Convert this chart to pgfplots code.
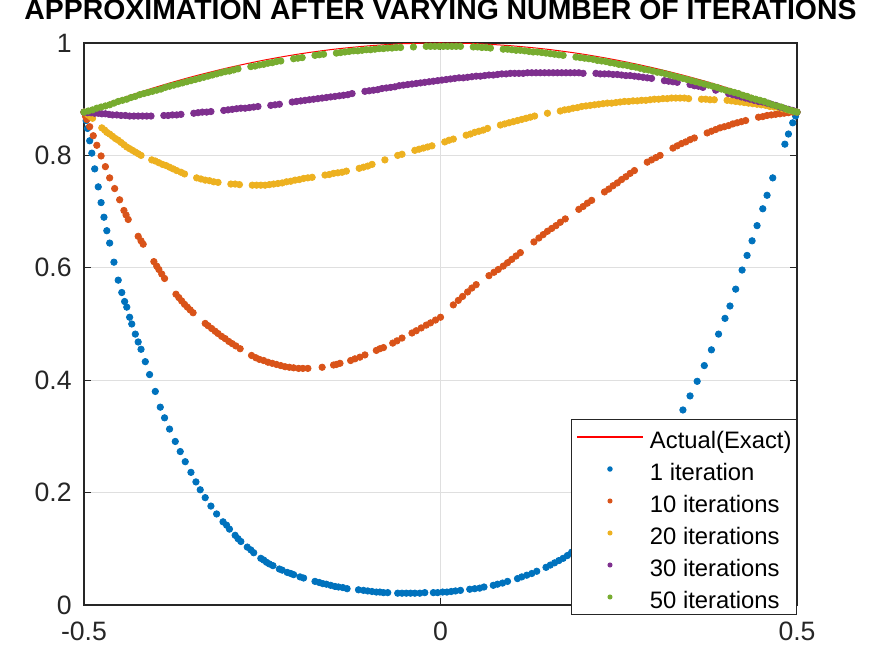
\documentclass[border=0pt]{standalone}
\usepackage{fontspec}
\setmainfont{Liberation Sans}
\usepackage{pgfplots}
\pgfplotsset{compat=1.18}
\definecolor{mblue}{rgb}{0,0.447,0.741}
\definecolor{morange}{rgb}{0.85,0.325,0.098}
\definecolor{myellow}{rgb}{0.929,0.694,0.125}
\definecolor{mpurple}{rgb}{0.494,0.184,0.556}
\definecolor{mgreen}{rgb}{0.466,0.674,0.188}
\definecolor{axgray}{HTML}{262626}
\definecolor{gridgray}{HTML}{DFDFDF}
\definecolor{exactred}{rgb}{1,0,0}

\begin{document}
\begin{tikzpicture}
\begin{axis}[
  scale only axis,
  width=356.5pt, height=281pt,
  xmin=-0.5, xmax=0.5, ymin=0, ymax=1,
  xtick={-0.5,0,0.5},
  ytick={0,0.2,0.4,0.6,0.8,1},
  /pgf/number format/assume math mode=true,
  tick label style={font=\fontsize{13.3}{16}\selectfont, color=axgray},
  xticklabel style={inner sep=0pt},
  yticklabel style={inner sep=0pt},
  xticklabel shift=8.5pt,
  yticklabel shift=6pt,
  axis line style={color=axgray, line width=0.6pt},
  major tick style={color=axgray, line width=0.6pt},
  major tick length=3.5pt,
  grid=major,
  major grid style={color=gridgray, line width=0.5pt},
  clip=false,
  title={APPROXIMATION AFTER VARYING NUMBER OF ITERATIONS},
  title style={font=\bfseries\fontsize{14.2}{16}\selectfont, at={(0.5,1)}, anchor=base, yshift=5.5pt, inner sep=0pt},
  legend cell align=left,
  legend style={at={(1,-0.0178)}, anchor=south east, draw=axgray, line width=0.5pt, fill=white,
    font=\fontsize{11.9}{14}\selectfont, inner xsep=2.5pt, inner ysep=2pt, row sep=2.5pt, column sep=3.5pt,
    nodes={inner sep=0pt, text height=12.5pt, text depth=1pt}},
]
% room round the axis as in the reference
\path (rel axis cs:0,0) -- ++(-42pt,-21.5pt);
\path (rel axis cs:1,1) -- ++(37.5pt,21.5pt);

% exact solution
\addplot[color=exactred, line width=0.5pt, smooth,
  legend image code/.code={\fill[exactred] (0pt,-0.35pt) rectangle (32.5pt,0.35pt);}] coordinates {
(-0.50,0.8776) (-0.45,0.9004) (-0.40,0.9211) (-0.35,0.9394) (-0.30,0.9553)
(-0.25,0.9689) (-0.20,0.9801) (-0.15,0.9888) (-0.10,0.9950) (-0.05,0.9988)
(0,1) (0.05,0.9988) (0.10,0.9950) (0.15,0.9888) (0.20,0.9801) (0.25,0.9689)
(0.30,0.9553) (0.35,0.9394) (0.40,0.9211) (0.45,0.9004) (0.50,0.8776)
};

% 1 iteration
\addplot[only marks, mark=*, mark size=1.6pt, color=mblue,
  legend image code/.code={\fill[mblue] (16.25pt,0pt) circle (1.1pt);}] coordinates {
(-0.500,0.877) (-0.497,0.862) (-0.495,0.848) (-0.492,0.826) (-0.489,0.804)
(-0.485,0.776) (-0.480,0.744) (-0.476,0.716) (-0.472,0.690) (-0.468,0.666)
(-0.464,0.644) (-0.458,0.610) (-0.452,0.578) (-0.447,0.556) (-0.443,0.540)
(-0.440,0.530) (-0.436,0.512) (-0.433,0.500) (-0.428,0.482) (-0.424,0.468)
(-0.420,0.455) (-0.414,0.433) (-0.408,0.410) (-0.400,0.380) (-0.393,0.352)
(-0.387,0.333) (-0.380,0.313) (-0.372,0.291) (-0.365,0.273) (-0.358,0.255)
(-0.350,0.236) (-0.343,0.219) (-0.337,0.205) (-0.330,0.191) (-0.322,0.176)
(-0.314,0.162) (-0.305,0.148) (-0.300,0.142) (-0.296,0.135) (-0.288,0.124)
(-0.284,0.118) (-0.280,0.113) (-0.271,0.103) (-0.266,0.098) (-0.262,0.093)
(-0.252,0.083) (-0.248,0.080) (-0.244,0.076) (-0.240,0.073) (-0.235,0.070)
(-0.226,0.064) (-0.222,0.062) (-0.215,0.058) (-0.210,0.056) (-0.206,0.054)
(-0.197,0.050) (-0.192,0.048) (-0.176,0.042) (-0.170,0.040) (-0.165,0.038)
(-0.160,0.037) (-0.154,0.035) (-0.148,0.033) (-0.143,0.032) (-0.137,0.031)
(-0.131,0.029) (-0.115,0.027) (-0.108,0.026) (-0.102,0.025) (-0.096,0.024)
(-0.090,0.023) (-0.085,0.023) (-0.080,0.022) (-0.074,0.022) (-0.060,0.021)
(-0.054,0.021) (-0.048,0.021) (-0.042,0.021) (-0.036,0.021) (-0.029,0.021)
(-0.022,0.022) (-0.010,0.022) (-0.004,0.022) (0.003,0.023) (0.009,0.023)
(0.015,0.024) (0.021,0.025) (0.028,0.026) (0.041,0.028) (0.048,0.029)
(0.055,0.030) (0.061,0.032) (0.074,0.035) (0.080,0.037) (0.087,0.039)
(0.094,0.042) (0.108,0.047) (0.114,0.050) (0.121,0.053) (0.128,0.056)
(0.135,0.060) (0.148,0.067) (0.154,0.071) (0.160,0.075) (0.166,0.079)
(0.172,0.083) (0.178,0.088) (0.184,0.094) (0.196,0.104) (0.208,0.116)
(0.220,0.130) (0.232,0.145) (0.245,0.164) (0.258,0.184) (0.270,0.203)
(0.283,0.226) (0.296,0.250) (0.308,0.275) (0.320,0.300) (0.330,0.323)
(0.340,0.347) (0.350,0.372) (0.360,0.398) (0.370,0.426) (0.380,0.454)
(0.390,0.482) (0.399,0.510) (0.406,0.532) (0.414,0.562) (0.423,0.596)
(0.430,0.622) (0.437,0.648) (0.444,0.675) (0.452,0.705) (0.458,0.729)
(0.466,0.760) (0.483,0.820) (0.488,0.838) (0.494,0.858) (0.498,0.870)
(0.500,0.877)
};

% 10 iterations
\addplot[only marks, mark=*, mark size=1.6pt, color=morange,
  legend image code/.code={\fill[morange] (16.25pt,0pt) circle (1pt);}] coordinates {
(-0.500,0.877) (-0.498,0.870) (-0.496,0.864) (-0.492,0.851) (-0.487,0.835)
(-0.482,0.818) (-0.476,0.799) (-0.470,0.780) (-0.464,0.760) (-0.457,0.741)
(-0.450,0.721) (-0.444,0.702) (-0.441,0.694) (-0.438,0.686) (-0.424,0.656)
(-0.420,0.648) (-0.417,0.642) (-0.402,0.611) (-0.398,0.603) (-0.395,0.597)
(-0.391,0.589) (-0.387,0.581) (-0.371,0.553) (-0.367,0.547) (-0.363,0.541)
(-0.359,0.535) (-0.355,0.530) (-0.351,0.525) (-0.347,0.520) (-0.330,0.501)
(-0.326,0.497) (-0.321,0.492) (-0.316,0.487) (-0.312,0.483) (-0.307,0.478)
(-0.302,0.474) (-0.297,0.469) (-0.292,0.465) (-0.287,0.461) (-0.281,0.456)
(-0.265,0.444) (-0.259,0.440) (-0.254,0.437) (-0.248,0.435) (-0.242,0.432)
(-0.236,0.430) (-0.230,0.428) (-0.224,0.426) (-0.218,0.424) (-0.212,0.423)
(-0.206,0.422) (-0.199,0.421) (-0.193,0.421) (-0.186,0.421) (-0.166,0.423)
(-0.150,0.427) (-0.146,0.428) (-0.141,0.430) (-0.126,0.435) (-0.120,0.438)
(-0.113,0.441) (-0.106,0.445) (-0.090,0.453) (-0.085,0.456) (-0.080,0.458)
(-0.067,0.466) (-0.061,0.470) (-0.054,0.475) (-0.040,0.484) (-0.034,0.488)
(-0.027,0.493) (-0.020,0.498) (-0.014,0.502) (-0.007,0.507) (0.000,0.512)
(0.018,0.534) (0.025,0.542) (0.031,0.549) (0.038,0.557) (0.044,0.564)
(0.050,0.570) (0.068,0.586) (0.075,0.592) (0.081,0.597) (0.088,0.603)
(0.094,0.609) (0.100,0.615) (0.106,0.621) (0.112,0.627) (0.131,0.646)
(0.138,0.653) (0.144,0.659) (0.150,0.665) (0.156,0.670) (0.162,0.675)
(0.168,0.681) (0.175,0.687) (0.194,0.704) (0.200,0.709) (0.206,0.715)
(0.212,0.720) (0.230,0.735) (0.236,0.740) (0.242,0.746) (0.248,0.751)
(0.254,0.757) (0.260,0.762) (0.266,0.768) (0.272,0.773) (0.290,0.788)
(0.296,0.792) (0.302,0.796) (0.308,0.800) (0.326,0.813) (0.332,0.817)
(0.338,0.821) (0.344,0.824) (0.350,0.828) (0.356,0.831) (0.374,0.840)
(0.380,0.843) (0.386,0.846) (0.392,0.849) (0.398,0.851) (0.404,0.853)
(0.410,0.856) (0.416,0.858) (0.422,0.860) (0.428,0.862) (0.446,0.868)
(0.452,0.869) (0.458,0.871) (0.464,0.872) (0.470,0.873) (0.476,0.874)
(0.482,0.875) (0.488,0.876) (0.494,0.877) (0.500,0.877)
};

% 20 iterations
\addplot[only marks, mark=*, mark size=1.6pt, color=myellow,
  legend image code/.code={\fill[myellow] (16.25pt,0pt) circle (1pt);}] coordinates {
(-0.500,0.877) (-0.497,0.875) (-0.494,0.872) (-0.491,0.869) (-0.488,0.866)
(-0.475,0.849) (-0.471,0.845) (-0.468,0.841) (-0.464,0.838) (-0.460,0.834)
(-0.456,0.830) (-0.452,0.827) (-0.448,0.823) (-0.444,0.819) (-0.440,0.815)
(-0.436,0.812) (-0.432,0.809) (-0.428,0.806) (-0.424,0.803) (-0.420,0.800)
(-0.405,0.792) (-0.400,0.790) (-0.395,0.787) (-0.390,0.784) (-0.385,0.782)
(-0.380,0.779) (-0.375,0.776) (-0.370,0.773) (-0.364,0.770) (-0.359,0.767)
(-0.342,0.760) (-0.336,0.758) (-0.330,0.756) (-0.324,0.755) (-0.318,0.753)
(-0.312,0.752) (-0.294,0.749) (-0.288,0.749) (-0.282,0.748) (-0.264,0.747)
(-0.258,0.747) (-0.252,0.747) (-0.246,0.747) (-0.240,0.748) (-0.234,0.749)
(-0.228,0.750) (-0.222,0.751) (-0.216,0.753) (-0.210,0.754) (-0.204,0.756)
(-0.198,0.757) (-0.192,0.759) (-0.186,0.760) (-0.180,0.761) (-0.162,0.765)
(-0.156,0.766) (-0.150,0.768) (-0.144,0.769) (-0.138,0.770) (-0.132,0.772)
(-0.114,0.777) (-0.108,0.779) (-0.102,0.781) (-0.096,0.784) (-0.078,0.792)
(-0.060,0.800) (-0.054,0.802) (-0.036,0.809) (-0.030,0.811) (-0.024,0.813)
(-0.018,0.815) (-0.012,0.817) (0.006,0.824) (0.012,0.827) (0.018,0.829)
(0.036,0.836) (0.042,0.838) (0.048,0.841) (0.054,0.843) (0.060,0.845)
(0.066,0.848) (0.084,0.854) (0.090,0.856) (0.096,0.858) (0.102,0.860)
(0.108,0.862) (0.114,0.864) (0.120,0.866) (0.126,0.868) (0.132,0.870)
(0.150,0.875) (0.168,0.879) (0.174,0.881) (0.180,0.882) (0.186,0.884)
(0.192,0.885) (0.198,0.887) (0.204,0.888) (0.210,0.889) (0.216,0.890)
(0.222,0.891) (0.228,0.892) (0.234,0.893) (0.240,0.893) (0.246,0.894)
(0.252,0.895) (0.258,0.896) (0.264,0.896) (0.270,0.897) (0.276,0.897)
(0.282,0.898) (0.288,0.898) (0.294,0.899) (0.300,0.900) (0.306,0.900)
(0.312,0.901) (0.318,0.901) (0.324,0.902) (0.330,0.902) (0.336,0.902)
(0.342,0.902) (0.348,0.901) (0.366,0.900) (0.372,0.900) (0.378,0.899)
(0.384,0.899) (0.402,0.898) (0.408,0.897) (0.414,0.896) (0.420,0.895)
(0.426,0.894) (0.432,0.893) (0.438,0.892) (0.444,0.891) (0.450,0.890)
(0.456,0.889) (0.462,0.887) (0.468,0.886) (0.474,0.885) (0.480,0.883)
(0.485,0.882) (0.490,0.880) (0.495,0.879) (0.500,0.877)
};

% 30 iterations
\addplot[only marks, mark=*, mark size=1.6pt, color=mpurple,
  legend image code/.code={\fill[mpurple] (16.25pt,0pt) circle (1pt);}] coordinates {
(-0.500,0.877) (-0.495,0.876) (-0.490,0.876) (-0.485,0.875) (-0.480,0.875)
(-0.475,0.874) (-0.470,0.874) (-0.465,0.873) (-0.460,0.872) (-0.454,0.872)
(-0.448,0.871) (-0.442,0.871) (-0.436,0.870) (-0.430,0.870) (-0.424,0.870)
(-0.418,0.870) (-0.412,0.870) (-0.406,0.870) (-0.388,0.871) (-0.382,0.871)
(-0.376,0.872) (-0.370,0.872) (-0.364,0.873) (-0.346,0.875) (-0.340,0.876)
(-0.334,0.877) (-0.328,0.877) (-0.322,0.878) (-0.304,0.880) (-0.298,0.881)
(-0.292,0.882) (-0.286,0.883) (-0.280,0.884) (-0.274,0.884) (-0.268,0.885)
(-0.262,0.886) (-0.256,0.887) (-0.238,0.889) (-0.232,0.890) (-0.226,0.891)
(-0.208,0.895) (-0.202,0.896) (-0.196,0.897) (-0.190,0.898) (-0.184,0.899)
(-0.178,0.900) (-0.172,0.901) (-0.166,0.902) (-0.160,0.903) (-0.154,0.904)
(-0.148,0.905) (-0.142,0.906) (-0.136,0.907) (-0.130,0.908) (-0.124,0.910)
(-0.106,0.914) (-0.100,0.915) (-0.094,0.916) (-0.088,0.917) (-0.082,0.919)
(-0.076,0.920) (-0.070,0.921) (-0.064,0.922) (-0.058,0.924) (-0.052,0.925)
(-0.046,0.926) (-0.040,0.927) (-0.034,0.928) (-0.028,0.929) (-0.022,0.930)
(-0.016,0.931) (-0.010,0.932) (-0.004,0.933) (0.002,0.934) (0.008,0.935)
(0.014,0.936) (0.020,0.937) (0.026,0.938) (0.032,0.938) (0.038,0.939)
(0.044,0.940) (0.050,0.941) (0.056,0.941) (0.062,0.942) (0.068,0.943)
(0.074,0.943) (0.080,0.944) (0.086,0.945) (0.092,0.945) (0.098,0.946)
(0.104,0.946) (0.110,0.946) (0.116,0.946) (0.122,0.947) (0.128,0.947)
(0.134,0.947) (0.140,0.947) (0.146,0.947) (0.152,0.947) (0.158,0.947)
(0.164,0.947) (0.170,0.947) (0.176,0.947) (0.182,0.947) (0.188,0.947)
(0.194,0.947) (0.200,0.946) (0.218,0.946) (0.224,0.945) (0.230,0.945)
(0.236,0.945) (0.242,0.944) (0.248,0.944) (0.254,0.943) (0.260,0.942)
(0.266,0.942) (0.272,0.941) (0.278,0.940) (0.284,0.939) (0.290,0.938)
(0.296,0.937) (0.314,0.933) (0.320,0.932) (0.326,0.931) (0.332,0.930)
(0.350,0.926) (0.356,0.924) (0.362,0.923) (0.368,0.921) (0.386,0.916)
(0.404,0.910) (0.410,0.908) (0.416,0.906) (0.422,0.904) (0.428,0.902)
(0.434,0.900) (0.440,0.898) (0.446,0.896) (0.452,0.895) (0.458,0.893)
(0.464,0.891) (0.470,0.889) (0.476,0.886) (0.482,0.884) (0.488,0.882)
(0.494,0.880) (0.500,0.877)
};

% 50 iterations
\addplot[only marks, mark=*, mark size=1.6pt, color=mgreen,
  legend image code/.code={\fill[mgreen] (16.25pt,0pt) circle (1pt);}] coordinates {
(-0.500,0.877) (-0.494,0.879) (-0.488,0.881) (-0.482,0.884) (-0.476,0.886)
(-0.470,0.888) (-0.464,0.890) (-0.458,0.893) (-0.452,0.896) (-0.446,0.898)
(-0.440,0.900) (-0.434,0.903) (-0.428,0.905) (-0.422,0.908) (-0.416,0.910)
(-0.410,0.912) (-0.404,0.914) (-0.398,0.916) (-0.392,0.918) (-0.386,0.921)
(-0.380,0.923) (-0.374,0.925) (-0.368,0.927) (-0.362,0.929) (-0.356,0.931)
(-0.350,0.933) (-0.344,0.935) (-0.338,0.937) (-0.332,0.939) (-0.326,0.941)
(-0.320,0.943) (-0.314,0.945) (-0.308,0.947) (-0.302,0.949) (-0.296,0.950)
(-0.290,0.952) (-0.284,0.954) (-0.266,0.958) (-0.260,0.959) (-0.254,0.961)
(-0.248,0.962) (-0.242,0.964) (-0.236,0.965) (-0.230,0.967) (-0.224,0.968)
(-0.206,0.972) (-0.200,0.973) (-0.194,0.974) (-0.176,0.978) (-0.170,0.979)
(-0.164,0.980) (-0.146,0.982) (-0.140,0.983) (-0.134,0.984) (-0.128,0.985)
(-0.122,0.986) (-0.116,0.986) (-0.110,0.987) (-0.104,0.988) (-0.098,0.988)
(-0.092,0.989) (-0.086,0.990) (-0.080,0.990) (-0.074,0.991) (-0.068,0.991)
(-0.062,0.992) (-0.056,0.992) (-0.038,0.993) (-0.020,0.994) (-0.014,0.994)
(-0.008,0.994) (-0.002,0.994) (0.004,0.994) (0.010,0.994) (0.016,0.994)
(0.022,0.994) (0.028,0.994) (0.046,0.993) (0.052,0.993) (0.058,0.992)
(0.064,0.992) (0.070,0.991) (0.088,0.989) (0.094,0.989) (0.100,0.988)
(0.106,0.987) (0.112,0.987) (0.118,0.986) (0.124,0.985) (0.130,0.984)
(0.136,0.984) (0.142,0.983) (0.148,0.982) (0.154,0.981) (0.160,0.980)
(0.166,0.979) (0.172,0.978) (0.190,0.975) (0.196,0.974) (0.202,0.973)
(0.208,0.972) (0.214,0.971) (0.220,0.969) (0.226,0.968) (0.232,0.967)
(0.238,0.965) (0.244,0.964) (0.250,0.962) (0.256,0.961) (0.262,0.960)
(0.268,0.958) (0.274,0.957) (0.280,0.955) (0.286,0.953) (0.292,0.952)
(0.298,0.950) (0.304,0.948) (0.310,0.947) (0.316,0.945) (0.322,0.943)
(0.328,0.941) (0.334,0.939) (0.340,0.937) (0.346,0.935) (0.352,0.933)
(0.358,0.931) (0.364,0.929) (0.370,0.927) (0.376,0.925) (0.382,0.923)
(0.388,0.921) (0.394,0.918) (0.400,0.916) (0.406,0.914) (0.412,0.912)
(0.418,0.910) (0.424,0.907) (0.430,0.905) (0.436,0.902) (0.442,0.900)
(0.448,0.898) (0.454,0.896) (0.460,0.893) (0.466,0.890) (0.472,0.888)
(0.478,0.886) (0.484,0.883) (0.488,0.881) (0.492,0.880) (0.496,0.878)
(0.500,0.877)
};

\legend{Actual(Exact),1 iteration,10 iterations,20 iterations,30 iterations,50 iterations}
\end{axis}
\end{tikzpicture}
\end{document}
